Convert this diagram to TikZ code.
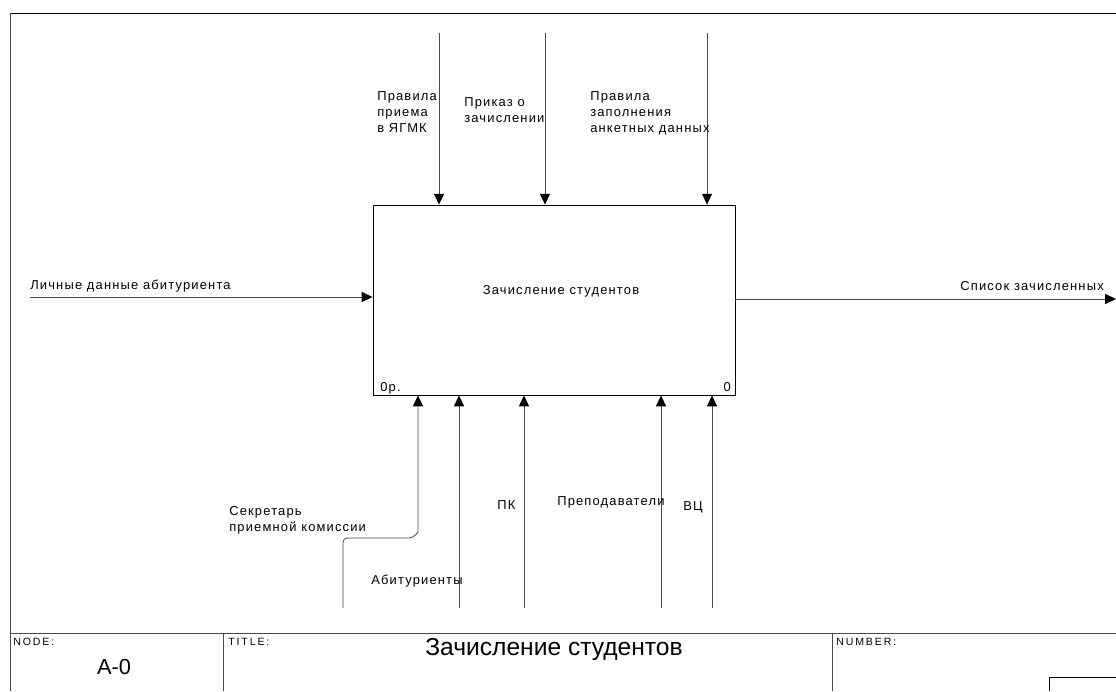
\documentclass[tikz,border=0pt]{standalone}
\usepackage{fontspec}
\setmainfont{Liberation Sans}
\usetikzlibrary{arrows.meta,positioning}
\definecolor{linegray}{HTML}{4A4A4A}

\begin{document}
\begin{tikzpicture}[x=0.025cm,y=-0.025cm,
          fnbox/.style={
            draw=black,
            line width=0.6pt,
            minimum width=9.05cm,
            minimum height=4.75cm,
            inner sep=0pt
          },
          lbl/.style={
            font=\fontsize{9.2}{11.4}\selectfont\addfontfeature{LetterSpace=9},
            align=left,
            inner sep=0pt
          },
          small/.style={font=\fontsize{7.5}{8}\selectfont\addfontfeature{LetterSpace=18},inner sep=0pt},
          arr/.style={-{Triangle[length=2.7mm,width=2.5mm,color=black]},line width=0.6pt,draw=linegray},
          frm/.style={line width=0.6pt,draw=linegray}
        ]
        \useasboundingbox (0,0) rectangle (1116,691);
        % frame and title block
        \draw[line width=0.6pt] (10,13) -- (1116,13);
        \draw[frm] (10,13) -- (10,691);
        \draw[frm] (10,633) -- (1116,633);
        \draw[frm] (223,633) -- (223,691);
        \draw[frm] (832,633) -- (832,691);
        \draw[line width=0.6pt] (1116,677) -- (1049,677) -- (1049,691);
        \node[small,anchor=north west] (nodelbl) at (13,638) {NODE:};
        \node[small,anchor=north west] (titlelbl) at (228,638) {TITLE:};
        \node[small,anchor=north west] (numlbl) at (836,638) {NUMBER:};
        \node[font=\fontsize{15.5}{18}\selectfont,inner sep=0pt] (nodeno) at (114,667) {A-0};
        \node[font=\fontsize{17.5}{20}\selectfont,inner sep=0pt] (title) at (554,649) {Зачисление студентов};
        % function box
        \node[fnbox] (zach) at (554,300) {};
        \node[lbl] (zachtxt) at (561,291) {Зачисление студентов};
        \node[lbl,anchor=north west] (zachno) at (380,382) {0р.};
        \node[lbl,anchor=north east] (zachnum) at (731,382) {0};
        % controls
        \coordinate (c1) at (439,33);
        \coordinate (c2) at (545,33);
        \coordinate (c3) at (707,33);
        \draw[arr] (c1) -- (c1 |- zach.north);
        \draw[arr] (c2) -- (c2 |- zach.north);
        \draw[arr] (c3) -- (c3 |- zach.north);
        \node[lbl,anchor=north west] (c1txt) at (377,91) {Правила\\приема\\в ЯГМК};
        \node[lbl,anchor=north west] (c2txt) at (464,97) {Приказ о\\зачислении};
        \node[lbl,anchor=north west] (c3txt) at (590,91) {Правила\\заполнения\\анкетных данных};
        % input and output
        \coordinate (in) at (30,297);
        \coordinate (out) at (1116,299);
        \draw[arr] (in) -- (in -| zach.west);
        \draw[arr] (out -| zach.east) -- (out);
        \node[lbl,anchor=north west] (intxt) at (30,280) {Личные данные абитуриента};
        \node[lbl,anchor=north east] (outtxt) at (1104,281) {Список зачисленных};
        % mechanisms
        \coordinate (m1) at (343,608);
        \coordinate (m2) at (459,608);
        \coordinate (m3) at (524,608);
        \coordinate (m4) at (661,608);
        \coordinate (m5) at (712,608);
        \draw[arr,rounded corners=3pt] (m1) -- (343,538) -- (413,538) [sharp corners] -- (418,532) -- (418,396 |- zach.south);
        \draw[arr] (m2) -- (m2 |- zach.south);
        \draw[arr] (m3) -- (m3 |- zach.south);
        \draw[arr] (m4) -- (m4 |- zach.south);
        \draw[arr] (m5) -- (m5 |- zach.south);
        \node[lbl,anchor=north west] (m1txt) at (229,506) {Секретарь\\приемной комиссии};
        \node[lbl,anchor=north west] (m2txt) at (371,575) {Абитуриенты};
        \node[lbl,anchor=north west] (m3txt) at (497,500) {ПК};
        \node[lbl,anchor=north west] (m4txt) at (557,496) {Преподаватели};
        \node[lbl,anchor=north west] (m5txt) at (683,501) {ВЦ};
      \end{tikzpicture}
\end{document}
